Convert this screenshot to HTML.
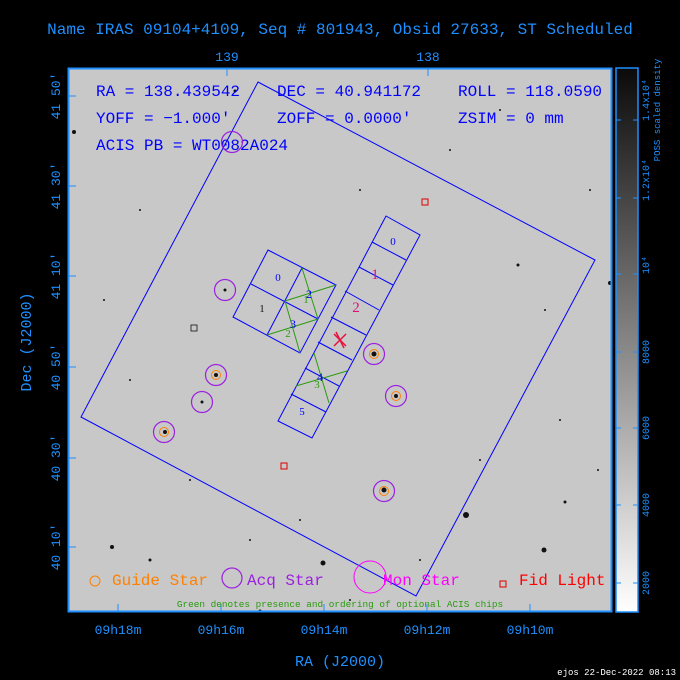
<!DOCTYPE html>
<html><head><meta charset="utf-8"><style>
html,body{margin:0;padding:0;background:#000;}
svg{display:block;}
text{font-family:"Liberation Mono","DejaVu Sans Mono",monospace;}
text.s{font-family:"Liberation Serif","DejaVu Serif",serif;}
</style></head><body>
<svg width="680" height="680" viewBox="0 0 680 680" xmlns="http://www.w3.org/2000/svg">
<defs>
<linearGradient id="cb" x1="0" y1="1" x2="0" y2="0">
<stop offset="0" stop-color="#ffffff"/><stop offset="1" stop-color="#0a0a0a"/>
</linearGradient>
<filter id="noise" x="0" y="0" width="1" height="1" filterUnits="objectBoundingBox"><feTurbulence type="fractalNoise" baseFrequency="0.9" numOctaves="1" seed="3"/><feColorMatrix type="matrix" values="0 0 0 0 0.5 0 0 0 0 0.5 0 0 0 0 0.5 0 0 0 0.15 0"/></filter>
</defs>
<rect width="680" height="680" fill="#000"/>
<text x="340" y="34" fill="#1e90ff" font-size="16" text-anchor="middle">Name IRAS 09104+4109, Seq # 801943, Obsid 27633, ST Scheduled</text>
<rect x="68" y="68" width="544" height="544" fill="#c9c9c9"/>
<rect x="68" y="68" width="544" height="544" filter="url(#noise)"/>
<g fill="#111">
<circle cx="74" cy="132" r="2"/><circle cx="466" cy="515" r="3"/><circle cx="544" cy="550" r="2.5"/><circle cx="323" cy="563" r="2.5"/><circle cx="112" cy="547" r="2"/><circle cx="518" cy="265" r="1.5"/><circle cx="610" cy="283" r="2"/><circle cx="165" cy="432" r="2"/><circle cx="216" cy="375" r="2"/><circle cx="374" cy="354" r="2.5"/><circle cx="396" cy="396" r="2"/><circle cx="384" cy="490" r="2.5"/><circle cx="202" cy="402" r="1.5"/><circle cx="225" cy="290" r="1.5"/><circle cx="235" cy="91" r="1.5"/><circle cx="565" cy="502" r="1.5"/><circle cx="260" cy="611" r="1.5"/><circle cx="545" cy="310" r="1"/><circle cx="140" cy="210" r="1"/><circle cx="480" cy="460" r="1"/><circle cx="300" cy="520" r="1"/><circle cx="150" cy="560" r="1.5"/><circle cx="590" cy="190" r="1"/><circle cx="350" cy="600" r="1"/>
<circle cx="104" cy="300" r="1"/><circle cx="190" cy="480" r="1"/><circle cx="450" cy="150" r="1"/><circle cx="560" cy="420" r="1"/><circle cx="250" cy="540" r="1"/><circle cx="420" cy="560" r="1"/><circle cx="130" cy="380" r="1"/><circle cx="500" cy="110" r="1"/><circle cx="598" cy="470" r="1"/><circle cx="360" cy="190" r="1"/>
</g>
<rect x="68.5" y="68.5" width="543" height="543" fill="none" stroke="#1e90ff" stroke-width="2"/>
<g stroke="#1e90ff" stroke-width="1">
<line x1="68" y1="96" x2="76" y2="96"/><line x1="68" y1="186" x2="76" y2="186"/><line x1="68" y1="276" x2="76" y2="276"/><line x1="68" y1="367" x2="76" y2="367"/><line x1="68" y1="458" x2="76" y2="458"/><line x1="68" y1="547" x2="76" y2="547"/>
<line x1="118" y1="612" x2="118" y2="604"/><line x1="221" y1="612" x2="221" y2="604"/><line x1="324" y1="612" x2="324" y2="604"/><line x1="427" y1="612" x2="427" y2="604"/><line x1="530" y1="612" x2="530" y2="604"/>
<line x1="227" y1="68" x2="227" y2="76"/><line x1="428" y1="68" x2="428" y2="76"/>
</g>
<g fill="#0000ff" font-size="16">
<text x="96" y="96">RA = 138.439542</text><text x="277" y="96">DEC = 40.941172</text><text x="458" y="96">ROLL = 118.0590</text>
<text x="96" y="123">YOFF =  −1.000′</text><text x="277" y="123">ZOFF =  0.0000′</text><text x="458" y="123">ZSIM = 0 mm</text>
<text x="96" y="150">ACIS PB = WT0082A024</text>
</g>
<polygon points="258,82 595,260 416,596 81,417" fill="none" stroke="#0000ff" stroke-width="1"/>
<g fill="none" stroke="#0000ff" stroke-width="1">
<polygon points="268,250 336,285 300,353 233,317"/>
<line x1="251" y1="284" x2="318" y2="319"/><line x1="302" y1="268" x2="267" y2="335"/>
<polygon points="386,216 420,235 312,438 278,421"/>
<line x1="372" y1="242" x2="406" y2="260"/><line x1="359" y1="267" x2="393" y2="285"/><line x1="345" y1="291" x2="379" y2="310"/><line x1="331" y1="317" x2="366" y2="335"/><line x1="318" y1="342" x2="352" y2="360"/><line x1="305" y1="368" x2="339" y2="386"/><line x1="291" y1="394" x2="326" y2="412"/>
</g>
<g stroke="#2a9a10" stroke-width="1">
<line x1="302" y1="268" x2="318" y2="319"/><line x1="285" y1="301" x2="336" y2="285"/>
<line x1="285" y1="301" x2="300" y2="353"/><line x1="267" y1="335" x2="318" y2="319"/>
<line x1="314" y1="353" x2="329" y2="403"/><line x1="296" y1="386" x2="347" y2="371"/>
</g>
<g text-anchor="middle">
<text class="s" x="278" y="281" fill="#0000ff" font-size="11">0</text>
<text class="s" x="262" y="312" fill="#111" font-size="11">1</text>
<text class="s" x="309" y="298" fill="#0000ff" font-size="12">2</text><text class="s" x="306" y="303" fill="#2a9a10" font-size="11">1</text>
<text class="s" x="293" y="328" fill="#0000ff" font-size="12">3</text><text class="s" x="288" y="337" fill="#2a9a10" font-size="11">2</text>
<text class="s" x="393" y="245" fill="#0000ff" font-size="11">0</text>
<text class="s" x="375" y="279" fill="#e0107a" font-size="15">1</text>
<text class="s" x="356" y="312" fill="#e0107a" font-size="15">2</text>
<text class="s" x="320" y="381" fill="#0000ff" font-size="12">4</text><text class="s" x="317" y="388" fill="#2a9a10" font-size="11">3</text>
<text class="s" x="302" y="415" fill="#0000ff" font-size="11">5</text>
</g>
<g stroke="#e8103c" stroke-width="1.5"><line x1="334" y1="334" x2="346" y2="346"/><line x1="346" y1="334" x2="334" y2="346"/><line x1="336" y1="332" x2="344" y2="348"/></g>
<g fill="none" stroke="#9b20e0" stroke-width="1.2">
<circle cx="232" cy="142" r="10.5"/><circle cx="225" cy="290" r="10.5"/><circle cx="216" cy="375" r="10.5"/><circle cx="202" cy="402" r="10.5"/><circle cx="164" cy="432" r="10.5"/><circle cx="374" cy="354" r="10.5"/><circle cx="396" cy="396" r="10.5"/><circle cx="384" cy="491" r="10.5"/>
</g>
<g fill="none" stroke="#ff8000" stroke-width="1">
<circle cx="216" cy="375" r="4.5"/><circle cx="164" cy="432" r="4.5"/><circle cx="374" cy="354" r="4.5"/><circle cx="396" cy="396" r="4.5"/><circle cx="384" cy="491" r="4.5"/>
</g>
<g fill="none" stroke="#e00000" stroke-width="1">
<rect x="422" y="199" width="6" height="6"/><rect x="191" y="325" width="6" height="6" stroke="#333"/><rect x="281" y="463" width="6" height="6"/><rect x="500" y="581" width="6" height="6"/>
</g>
<circle cx="95" cy="581" r="5" fill="none" stroke="#ff8000"/>
<circle cx="232" cy="578" r="10" fill="none" stroke="#9b20e0" stroke-width="1.2"/>
<circle cx="370" cy="577" r="16" fill="none" stroke="#ff00ff" stroke-width="1"/>
<g font-size="16">
<text x="112" y="585" fill="#ff8000">Guide Star</text>
<text x="247" y="585" fill="#9b20e0">Acq Star</text>
<text x="383" y="585" fill="#ff00ff">Mon Star</text>
<text x="519" y="585" fill="#ff0000">Fid Light</text>
<text x="340" y="607" fill="#2a9a10" font-size="9.4" text-anchor="middle">Green denotes presence and ordering of optional ACIS chips</text>
</g>
<g fill="#1e90ff" font-size="13" text-anchor="middle">
<text x="118" y="634">09h18m</text><text x="221" y="634">09h16m</text><text x="324" y="634">09h14m</text><text x="427" y="634">09h12m</text><text x="530" y="634">09h10m</text>
<text x="227" y="61">139</text><text x="428" y="61">138</text>
<text x="340" y="666" font-size="15">RA (J2000)</text>
<text transform="translate(31,342) rotate(-90)" font-size="15">Dec (J2000)</text>
<text transform="translate(60,96) rotate(-90)">41 50′</text>
<text transform="translate(60,186) rotate(-90)">41 30′</text>
<text transform="translate(60,276) rotate(-90)">41 10′</text>
<text transform="translate(60,367) rotate(-90)">40 50′</text>
<text transform="translate(60,458) rotate(-90)">40 30′</text>
<text transform="translate(60,547) rotate(-90)">40 10′</text>
</g>
<rect x="616" y="68" width="22" height="544" fill="url(#cb)" stroke="#1e90ff" stroke-width="1.5"/>
<g stroke="#1e90ff">
<line x1="616" y1="583" x2="621" y2="583"/><line x1="633" y1="583" x2="638" y2="583"/>
<line x1="616" y1="505" x2="621" y2="505"/><line x1="633" y1="505" x2="638" y2="505"/>
<line x1="616" y1="428" x2="621" y2="428"/><line x1="633" y1="428" x2="638" y2="428"/>
<line x1="616" y1="352" x2="621" y2="352"/><line x1="633" y1="352" x2="638" y2="352"/>
<line x1="616" y1="274" x2="621" y2="274"/><line x1="633" y1="274" x2="638" y2="274"/>
<line x1="616" y1="198" x2="621" y2="198"/><line x1="633" y1="198" x2="638" y2="198"/>
<line x1="616" y1="120" x2="621" y2="120"/><line x1="633" y1="120" x2="638" y2="120"/>
</g>
<g fill="#1e90ff" font-size="10" text-anchor="middle">
<text transform="translate(649,583) rotate(-90)">2000</text>
<text transform="translate(649,505) rotate(-90)">4000</text>
<text transform="translate(649,428) rotate(-90)">6000</text>
<text transform="translate(649,352) rotate(-90)">8000</text>
<text transform="translate(649,265) rotate(-90)">10⁴</text>
<text transform="translate(649,180) rotate(-90)">1.2x10⁴</text>
<text transform="translate(649,100) rotate(-90)">1.4x10⁴</text>
<text transform="translate(660,110) rotate(-90)" font-size="9">POSS scaled density</text>
</g>
<text x="676" y="675" fill="#fff" font-size="9" text-anchor="end">ejos 22-Dec-2022 08:13</text>
</svg>
</body></html>
